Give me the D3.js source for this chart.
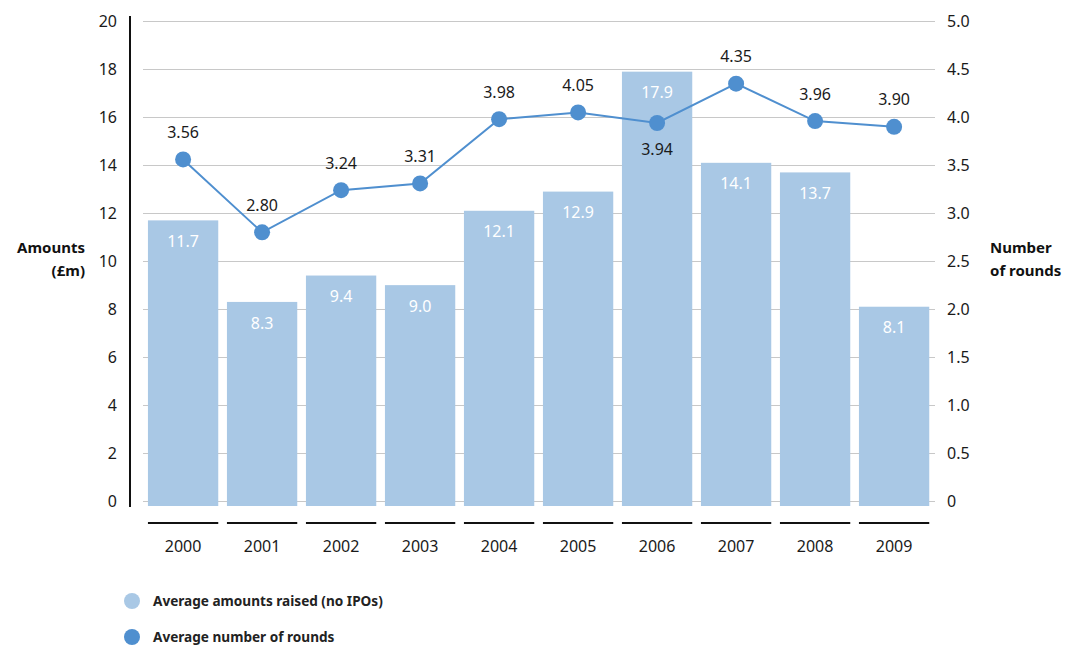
<!DOCTYPE html>
<html>
<head>
<meta charset="utf-8">
<script src="https://cdn.jsdelivr.net/npm/d3@7"></script>
<style>
  body { margin: 0; background: #fff; }
  svg { display: block; font-family: "Noto Sans", "Open Sans", sans-serif; }
</style>
</head>
<body>
<svg id="chart" width="1085" height="648"></svg>
<script>
// Years on the horizontal axis
const years = ["2000", "2001", "2002", "2003", "2004", "2005", "2006", "2007", "2008", "2009"];
// Average amounts raised, £m (bars, left axis)
const amounts = [11.7, 8.3, 9.4, 9.0, 12.1, 12.9, 17.9, 14.1, 13.7, 8.1];
// Average number of rounds (line, right axis)
const rounds = [3.56, 2.80, 3.24, 3.31, 3.98, 4.05, 3.94, 4.35, 3.96, 3.90];
// Tick values for both axes
const leftTicks = [0, 2, 4, 6, 8, 10, 12, 14, 16, 18, 20];
const rightTicks = [0, 0.5, 1.0, 1.5, 2.0, 2.5, 3.0, 3.5, 4.0, 4.5, 5.0];
// Legend entries
const legendItems = ["Average amounts raised (no IPOs)", "Average number of rounds"];

const barColor = "#a9c8e5";
const lineColor = "#4f8fcf";

const svg = d3.select("#chart");

const x = d3.scaleBand().domain(years).range([143.6, 933.6]).paddingInner(0.11).paddingOuter(0.055);
const yL = d3.scaleLinear().domain([0, 20]).range([501, 21.3]);
const yR = d3.scaleLinear().domain([0, 5]).range([501, 21.3]);

// Horizontal gridlines
svg.append("g").selectAll("line").data(leftTicks).join("line")
  .attr("x1", 143).attr("x2", 935)
  .attr("y1", d => Math.round(yL(d)) + 0.5).attr("y2", d => Math.round(yL(d)) + 0.5)
  .attr("stroke", "#c8c8c8").attr("stroke-width", 1);

// Left axis labels
svg.append("g").selectAll("text").data(leftTicks).join("text")
  .attr("x", 117).attr("y", d => yL(d)).attr("dy", "0.35em")
  .attr("text-anchor", "end").attr("font-size", 16).attr("fill", "#1a1a1a")
  .text(d => d);

// Right axis labels
svg.append("g").selectAll("text").data(rightTicks).join("text")
  .attr("x", 947).attr("y", d => yR(d)).attr("dy", "0.35em")
  .attr("text-anchor", "start").attr("font-size", 16).attr("fill", "#1a1a1a")
  .text(d => d === 0 ? "0" : d.toFixed(1));

// Left axis line
svg.append("line").attr("x1", 130).attr("x2", 130).attr("y1", 16).attr("y2", 507)
  .attr("stroke", "#111").attr("stroke-width", 2);

// Axis titles
const leftTitle = svg.append("text").attr("font-size", 15).attr("font-weight", "bold")
  .attr("text-anchor", "end").attr("fill", "#111");
leftTitle.append("tspan").attr("x", 85).attr("y", 253).text("Amounts");
leftTitle.append("tspan").attr("x", 85).attr("y", 276).text("(£m)");

const rightTitle = svg.append("text").attr("font-size", 15).attr("font-weight", "bold")
  .attr("text-anchor", "start").attr("fill", "#111");
rightTitle.append("tspan").attr("x", 990).attr("y", 253).text("Number");
rightTitle.append("tspan").attr("x", 990).attr("y", 276).text("of rounds");

// Bars
svg.append("g").selectAll("rect").data(amounts).join("rect")
  .attr("x", (d, i) => x(years[i]))
  .attr("width", x.bandwidth())
  .attr("y", d => yL(d))
  .attr("height", d => yL(0) + 5 - yL(d))
  .attr("fill", barColor);

// Bar value labels
svg.append("g").selectAll("text").data(amounts).join("text")
  .attr("x", (d, i) => x(years[i]) + x.bandwidth() / 2)
  .attr("y", d => yL(d) + 21).attr("dy", "0.35em")
  .attr("text-anchor", "middle").attr("font-size", 16).attr("fill", "#fff")
  .text(d => d.toFixed(1));

// Year underlines and labels
svg.append("g").selectAll("line").data(years).join("line")
  .attr("x1", d => x(d)).attr("x2", d => x(d) + x.bandwidth())
  .attr("y1", 523).attr("y2", 523)
  .attr("stroke", "#111").attr("stroke-width", 2);
svg.append("g").selectAll("text").data(years).join("text")
  .attr("x", d => x(d) + x.bandwidth() / 2).attr("y", 546).attr("dy", "0.35em")
  .attr("text-anchor", "middle").attr("font-size", 16).attr("fill", "#1a1a1a")
  .text(d => d);

// Rounds line
const cx = i => x(years[i]) + x.bandwidth() / 2;
const line = d3.line().x((d, i) => cx(i)).y(d => yR(d));
svg.append("path").datum(rounds).attr("d", line)
  .attr("fill", "none").attr("stroke", lineColor).attr("stroke-width", 2);
svg.append("g").selectAll("circle").data(rounds).join("circle")
  .attr("cx", (d, i) => cx(i)).attr("cy", d => yR(d)).attr("r", 8)
  .attr("fill", lineColor);

// Point labels (2006 sits below its point, the rest above)
svg.append("g").selectAll("text").data(rounds).join("text")
  .attr("x", (d, i) => cx(i))
  .attr("y", (d, i) => years[i] === "2006" ? yR(d) + 26 : yR(d) - 27)
  .attr("dy", "0.35em")
  .attr("text-anchor", "middle").attr("font-size", 16).attr("fill", "#1a1a1a")
  .text(d => d.toFixed(2));

// Legend
const legend = svg.append("g").selectAll("g").data(legendItems).join("g")
  .attr("transform", (d, i) => `translate(0, ${601 + i * 36})`);
legend.append("circle").attr("cx", 132).attr("cy", 0).attr("r", 8)
  .attr("fill", (d, i) => i === 0 ? barColor : lineColor);
legend.append("text").attr("x", 153).attr("y", 0).attr("dy", "0.35em")
  .attr("font-size", 13.6).attr("font-weight", "bold").attr("fill", "#222")
  .text(d => d);
</script>
</body>
</html>
